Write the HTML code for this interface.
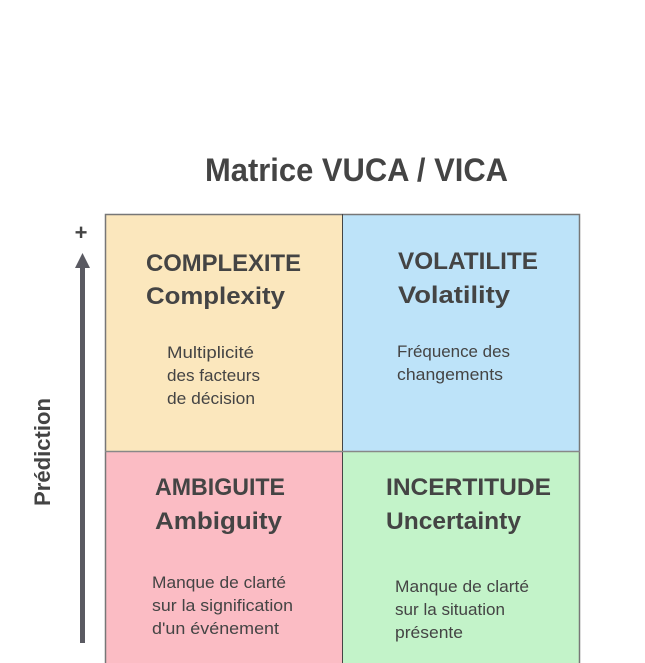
<!DOCTYPE html>
<html><head><meta charset="utf-8"><style>
html,body{margin:0;padding:0;background:#fff;}
svg{display:block}
text{font-family:"Liberation Sans",sans-serif;fill:#444;}
.h{font-weight:bold;font-size:24px}
.b{font-size:16.5px}
</style></head><body>
<svg width="645" height="663" viewBox="0 0 645 663">
<text x="205" y="181" font-size="32" font-weight="bold" textLength="303" lengthAdjust="spacingAndGlyphs">Matrice VUCA / VICA</text>
<rect x="105" y="214" width="237" height="237" fill="#fbe7bd"/>
<rect x="342" y="214" width="238" height="237" fill="#bde3f9"/>
<rect x="105" y="451" width="237" height="212" fill="#fbbcc4"/>
<rect x="342" y="451" width="238" height="212" fill="#c3f3c9"/>
<path d="M105.5 663V214.5H579.5V663" fill="none" stroke="#777" stroke-width="1.5"/>
<line x1="342.5" y1="214" x2="342.5" y2="663" stroke="#444" stroke-width="1"/>
<line x1="105" y1="451.5" x2="580" y2="451.5" stroke="#888" stroke-width="1.5"/>
<text class="h" x="146" y="271" textLength="155" lengthAdjust="spacingAndGlyphs">COMPLEXITE</text>
<text class="h" x="146" y="304" textLength="139" lengthAdjust="spacingAndGlyphs">Complexity</text>
<text class="b" x="167" y="358" textLength="87" lengthAdjust="spacingAndGlyphs">Multiplicité</text>
<text class="b" x="167" y="381" textLength="93" lengthAdjust="spacingAndGlyphs">des facteurs</text>
<text class="b" x="167" y="404" textLength="88" lengthAdjust="spacingAndGlyphs">de décision</text>
<text class="h" x="398" y="269" textLength="140" lengthAdjust="spacingAndGlyphs">VOLATILITE</text>
<text class="h" x="398" y="303" textLength="112" lengthAdjust="spacingAndGlyphs">Volatility</text>
<text class="b" x="397" y="357" textLength="113" lengthAdjust="spacingAndGlyphs">Fréquence des</text>
<text class="b" x="397" y="380" textLength="106" lengthAdjust="spacingAndGlyphs">changements</text>
<text class="h" x="155" y="495" textLength="130" lengthAdjust="spacingAndGlyphs">AMBIGUITE</text>
<text class="h" x="155" y="529" textLength="127" lengthAdjust="spacingAndGlyphs">Ambiguity</text>
<text class="b" x="152" y="588" textLength="134" lengthAdjust="spacingAndGlyphs">Manque de clarté</text>
<text class="b" x="152" y="611" textLength="141" lengthAdjust="spacingAndGlyphs">sur la signification</text>
<text class="b" x="152" y="634" textLength="127" lengthAdjust="spacingAndGlyphs">d'un événement</text>
<text class="h" x="386" y="495" textLength="165" lengthAdjust="spacingAndGlyphs">INCERTITUDE</text>
<text class="h" x="386" y="529" textLength="135" lengthAdjust="spacingAndGlyphs">Uncertainty</text>
<text class="b" x="395" y="592" textLength="134" lengthAdjust="spacingAndGlyphs">Manque de clarté</text>
<text class="b" x="395" y="615" textLength="110" lengthAdjust="spacingAndGlyphs">sur la situation</text>
<text class="b" x="395" y="638" textLength="68" lengthAdjust="spacingAndGlyphs">présente</text>
<rect x="80" y="266" width="5" height="377" fill="#5a5a62"/>
<polygon points="82.5,253 75,268 90,268" fill="#5a5a62"/>
<text x="81" y="240" font-size="22" font-weight="bold" text-anchor="middle">+</text>
<text x="0" y="0" font-size="22" font-weight="bold" text-anchor="middle" transform="translate(50,452) rotate(-90)" textLength="108" lengthAdjust="spacingAndGlyphs">Prédiction</text>
</svg>
</body></html>
